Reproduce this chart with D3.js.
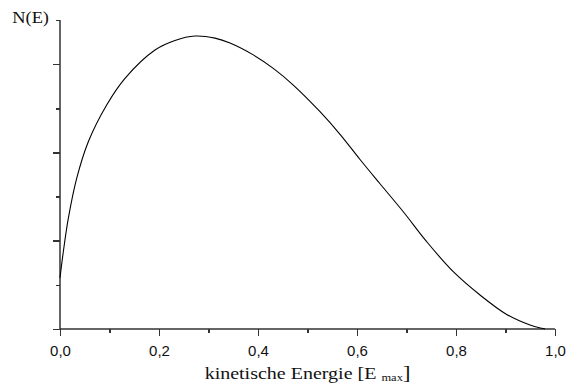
<!DOCTYPE html>
<html>
<head>
<meta charset="utf-8">
<script src="https://cdn.jsdelivr.net/npm/d3@7"></script>
<style>
  body { margin: 0; background: #fff; }
  .tick text { font-family: "Liberation Sans", Arial, sans-serif; font-size: 15px; fill: #111; }
  .axis path, .axis line { stroke: #333; stroke-width: 1.5; shape-rendering: crispEdges; }
  .serif { font-family: "Liberation Serif", "Times New Roman", serif; fill: #111; }
</style>
</head>
<body>
<script>
// spectrum (energy in units of E_max, N(E) in arbitrary units)
var energy = [0.0, 0.0067, 0.0168, 0.0337, 0.0572, 0.0943, 0.1313, 0.1919, 0.2323, 0.2727,
    0.3131, 0.3434, 0.3905, 0.4309, 0.4713, 0.5253, 0.5657, 0.6061, 0.6465, 0.6935,
    0.7408, 0.7945, 0.8485, 0.9024, 0.9495, 0.9731, 0.98];
var counts = [0.58, 0.875, 1.253, 1.706, 2.121, 2.537, 2.839, 3.16, 3.268, 3.318,
    3.295, 3.24, 3.105, 2.952, 2.763, 2.461, 2.205, 1.92, 1.645, 1.328,
    0.989, 0.649, 0.385, 0.165, 0.045, 0.008, 0.0];
var xMajor = [0, 0.2, 0.4, 0.6, 0.8, 1.0];
var xMinor = [0.1, 0.3, 0.5, 0.7, 0.9];
var yMajor = [0, 1, 2, 3];
var yMinor = [0.5, 1.5, 2.5, 3.5];

var width = 569, height = 385;
var svg = d3.select("body").append("svg")
    .attr("width", width)
    .attr("height", height);

var x = d3.scaleLinear().domain([0, 1]).range([60, 555]);
var y = d3.scaleLinear().domain([0, 3.5]).range([329, 20]);

var fmt = function(d) { return d3.format(".1f")(d).replace(".", ","); };

// x axis
svg.append("g")
    .attr("class", "axis")
    .attr("transform", "translate(0," + y(0) + ")")
    .call(d3.axisBottom(x).tickValues(xMinor).tickSize(4).tickSizeOuter(0).tickFormat(""));
svg.append("g")
    .attr("class", "axis")
    .attr("transform", "translate(0," + y(0) + ")")
    .call(d3.axisBottom(x).tickValues(xMajor).tickSize(7).tickSizeOuter(0).tickFormat(fmt))
  .selectAll("text")
    .attr("y", 16);

// y axis
svg.append("g")
    .attr("class", "axis")
    .attr("transform", "translate(" + x(0) + ",0)")
    .call(d3.axisLeft(y).tickValues(yMinor).tickSize(4).tickSizeOuter(0).tickFormat(""));
svg.append("g")
    .attr("class", "axis")
    .attr("transform", "translate(" + x(0) + ",0)")
    .call(d3.axisLeft(y).tickValues(yMajor).tickSize(7).tickSizeOuter(0).tickFormat(""));

svg.selectAll(".axis .domain").remove();
svg.append("line")
    .attr("x1", x(0)).attr("x2", x(1))
    .attr("y1", y(0)).attr("y2", y(0))
    .style("stroke", "#333").style("stroke-width", 1.5);
svg.append("line")
    .attr("x1", x(0)).attr("x2", x(0))
    .attr("y1", y(0)).attr("y2", y(3.5))
    .style("stroke", "#333").style("stroke-width", 1.5);

// curve
var pts = energy.map(function(e, i) { return [e, counts[i]]; });
var line = d3.line()
    .x(function(d) { return x(d[0]); })
    .y(function(d) { return y(d[1]); })
    .curve(d3.curveCatmullRom.alpha(0.5));

svg.append("path")
    .datum(pts)
    .attr("d", line)
    .attr("fill", "none")
    .attr("stroke", "#000")
    .attr("stroke-width", 1.1);

// labels (the original lettering is a bit stretched horizontally)
svg.append("g")
    .attr("transform", "translate(49,23) scale(1.15,1)")
  .append("text")
    .attr("class", "serif")
    .attr("text-anchor", "end")
    .style("font-size", "16px")
    .text("N(E)");

var xl = svg.append("g")
    .attr("transform", "translate(" + ((x(0) + x(1)) / 2) + ",379) scale(1.25,1)")
  .append("text")
    .attr("class", "serif")
    .attr("text-anchor", "middle")
    .style("font-size", "16px");
xl.append("tspan").text("kinetische Energie [E ");
xl.append("tspan").attr("dy", 2).style("font-size", "10px").text("max");
xl.append("tspan").attr("dy", -2).style("font-size", "18px").text("]");
</script>
</body>
</html>
